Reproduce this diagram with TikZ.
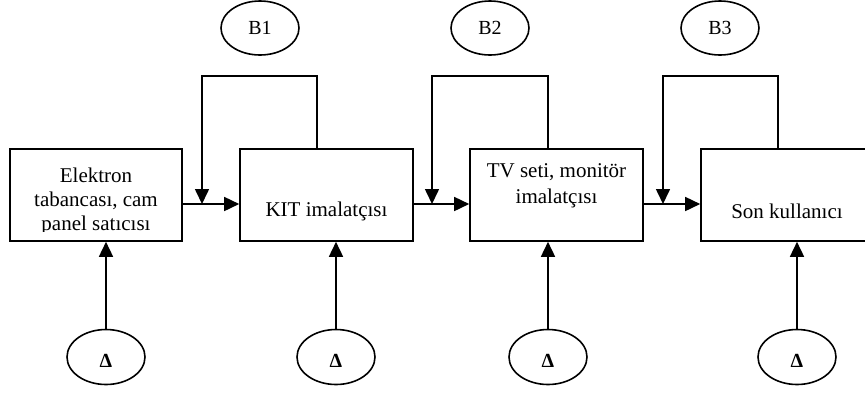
\documentclass[tikz,border=0pt]{standalone}
\usepackage{fontspec}
\setmainfont{Liberation Serif}
\usetikzlibrary{arrows.meta,shapes.geometric,calc}
\begin{document}
\begin{tikzpicture}[x=1pt,y=-1pt,
  line width=1.6pt,
  boxn/.style={draw,rectangle,minimum height=92pt,inner sep=0pt},
  btext/.style={inner sep=0pt,align=center,font=\fontsize{21}{25.5}\selectfont},
  oval/.style={draw,ellipse,minimum width=78pt,minimum height=54pt,inner sep=0pt,font=\fontsize{20}{22}\selectfont},
  aoval/.style={draw,ellipse,minimum width=78pt,minimum height=55pt,inner sep=0pt},
  atext/.style={inner sep=0pt,font=\fontsize{20}{22}\selectfont\bfseries},
  arr/.style={-{Triangle[length=15pt,width=14pt]}}]
\useasboundingbox (0,0) rectangle (865,392);
\clip (0,0) rectangle (865,392);
% boxes
\node[boxn,minimum width=172pt] (b1) at (96,195) {};
\node[boxn,minimum width=173pt] (b2) at (326.5,195) {};
\node[boxn,minimum width=173pt] (b3) at (556.5,195) {};
\node[boxn,minimum width=172pt] (b4) at (787,195) {};
% box texts
\begin{scope}
\clip (10,149) rectangle (182,231);
\node[btext,font=\fontsize{21}{24}\selectfont] (t1) at (96,201) {Elektron\\tabancası, cam\\panel satıcısı};
\end{scope}
\node[btext] (t2) at (326.5,211) {KIT imalatçısı};
\node[btext] (t3) at (556.5,186) {TV seti, monitör\\imalatçısı};
\node[btext] (t4) at (787,211) {Son kullanıcı};
% top ovals
\node[oval] (o1) at (260,28) {B1};
\node[oval] (o2) at (490,28) {B2};
\node[oval] (o3) at (720,28) {B3};
% bottom ovals
\node[aoval] (a1) at (106,357) {};
\node[aoval] (a2) at (336,357) {};
\node[aoval] (a3) at (548,357) {};
\node[aoval] (a4) at (797,357) {};
\node[atext] (d1) at (106,361) {Δ};
\node[atext] (d2) at (336,361) {Δ};
\node[atext] (d3) at (548,361) {Δ};
\node[atext] (d4) at (797,361) {Δ};
% junctions and loop corners
\coordinate (j1) at (202,204);
\coordinate (j2) at (432,204);
\coordinate (j3) at (663,204);
\coordinate (c1) at (317,76);
\coordinate (c2) at (548,76);
\coordinate (c3) at (778,76);
% forward arrows
\draw[arr] (b1.east |- j1) -- (b2.west |- j1);
\draw[arr] (b2.east |- j2) -- (b3.west |- j2);
\draw[arr] (b3.east |- j3) -- (b4.west |- j3);
% feedback loops
\draw[arr] (b2.north -| c1) -- (c1) -| (j1);
\draw[arr] (b3.north -| c2) -- (c2) -| (j2);
\draw[arr] (b4.north -| c3) -- (c3) -| (j3);
% bottom inputs
\draw[arr] (a1.north) -- (a1.north |- b1.south);
\draw[arr] (a2.north) -- (a2.north |- b2.south);
\draw[arr] (a3.north) -- (a3.north |- b3.south);
\draw[arr] (a4.north) -- (a4.north |- b4.south);
\end{tikzpicture}
\end{document}
